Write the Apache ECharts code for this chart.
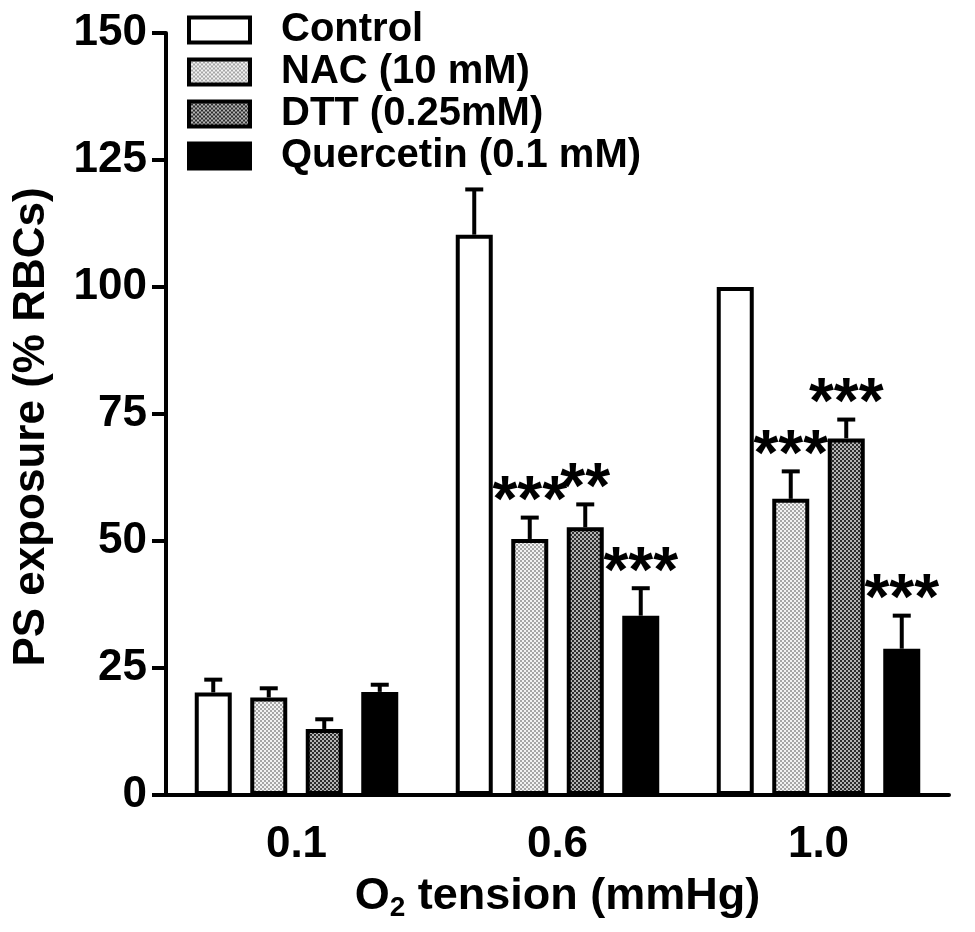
<!DOCTYPE html>
<html>
<head>
<meta charset="utf-8">
<script src="https://cdn.jsdelivr.net/npm/echarts@6/dist/echarts.min.js"></script>
<style>
    html, body { margin: 0; padding: 0; background: #fff; }
    #chart { width: 975px; height: 932px; }
</style>
</head>
<body>
<div id="chart"></div>
<script>
// O2 tension groups and treatments
var categories = ['0.1', '0.6', '1.0'];
var seriesNames = ['Control', 'NAC (10 mM)', 'DTT (0.25mM)', 'Quercetin (0.1 mM)'];
var yTicks = [0, 25, 50, 75, 100, 125, 150];

// means and upper error (SEM) in % RBCs
var controlMean = [20.2, 110.3, 100];
var controlErr = [2.9, 9.3, 0];
var nacMean = [19.2, 50.4, 58.3];
var nacErr = [2.2, 4.6, 5.8];
var dttMean = [13.0, 52.7, 70.2];
var dttErr = [2.3, 4.9, 4.1];
var querMean = [20.3, 35.3, 28.8];
var querErr = [1.8, 5.8, 6.9];

// significance marks
var controlSig = ['', '', ''];
var nacSig = ['', '***', '***'];
var dttSig = ['', '**', '***'];
var querSig = ['', '***', '***'];

var FONT = '"Liberation Sans", Arial, Helvetica, sans-serif';
var BAR_W = 37;
var BAR_GAP = 0.5;

function stipple(light, dark) {
    var c = document.createElement('canvas');
    c.width = 4;
    c.height = 4;
    var ctx = c.getContext('2d');
    ctx.fillStyle = light;
    ctx.fillRect(0, 0, 4, 4);
    ctx.fillStyle = dark;
    ctx.fillRect(0, 0, 2, 2);
    ctx.fillRect(2, 2, 2, 2);
    return {image: c, repeat: 'repeat'};
}

var fills = [
    '#ffffff',
    stipple('#f2f2f2', '#a6a6a6'),
    stipple('#b4b4b4', '#2e2e2e'),
    '#000000'
];
var means = [controlMean, nacMean, dttMean, querMean];
var errs = [controlErr, nacErr, dttErr, querErr];
var sigs = [controlSig, nacSig, dttSig, querSig];

var chart = echarts.init(document.getElementById('chart'));

var series = [];
for (var k = 0; k < 4; k++) {
    series.push({
        name: seriesNames[k],
        type: 'bar',
        barWidth: BAR_W,
        barGap: (BAR_GAP * 100) + '%',
        itemStyle: {
            color: fills[k],
            borderColor: '#000',
            borderWidth: 4
        },
        data: means[k]
    });
}

// error bars + stars, one custom series per treatment
for (var k = 0; k < 4; k++) {
    (function (k) {
        var rows = [];
        for (var i = 0; i < categories.length; i++) {
            rows.push([i, means[k][i], means[k][i] + errs[k][i], sigs[k][i]]);
        }
        series.push({
            type: 'custom',
            name: 'err' + k,
            clip: false,
            z: 5,
            encode: {x: 0, y: [1, 2]},
            renderItem: function (params, api) {
                var base = api.coord([api.value(0), api.value(1)]);
                var top = api.coord([api.value(0), api.value(2)]);
                var step = BAR_W * (1 + BAR_GAP);
                var x = base[0] + (k - 1.5) * step;
                var children = [];
                if (api.value(2) > api.value(1)) {
                    children.push({
                        type: 'line',
                        shape: {x1: x, y1: base[1], x2: x, y2: top[1] + 2},
                        style: {stroke: '#000', lineWidth: 4}
                    });
                    children.push({
                        type: 'line',
                        shape: {x1: x - 9, y1: top[1] + 2, x2: x + 9, y2: top[1] + 2},
                        style: {stroke: '#000', lineWidth: 4}
                    });
                }
                var s = rows[params.dataIndex][3];
                if (s) {
                    children.push({
                        type: 'text',
                        style: {
                            text: s,
                            x: x,
                            y: top[1] - 12,
                            align: 'center',
                            verticalAlign: 'middle',
                            fontFamily: FONT,
                            fontWeight: 'bold',
                            fontSize: 64,
                            fill: '#000'
                        }
                    });
                }
                return {type: 'group', children: children};
            },
            data: rows
        });
    })(k);
}

chart.setOption({
    backgroundColor: '#fff',
    animation: false,
    grid: {
        left: 166,
        right: 26,
        top: 33,
        bottom: 137
    },
    legend: {
        data: seriesNames,
        orient: 'vertical',
        left: 182,
        top: 4,
        itemWidth: 61,
        itemHeight: 25,
        itemGap: 0,
        icon: 'rect',
        selectedMode: false,
        itemStyle: {borderColor: '#000', borderWidth: 4},
        textStyle: {
            fontFamily: FONT,
            fontWeight: 'bold',
            fontSize: 40,
            lineHeight: 42,
            color: '#000',
            padding: [0, 0, 0, 26]
        }
    },
    xAxis: {
        type: 'category',
        data: categories,
        name: '{a|O}{sub|2}{a| tension (mmHg)}',
        nameLocation: 'middle',
        nameGap: 72,
        nameTextStyle: {
            rich: {
                a: {fontFamily: FONT, fontWeight: 'bold', fontSize: 45, color: '#000', lineHeight: 50},
                sub: {fontFamily: FONT, fontWeight: 'bold', fontSize: 28, color: '#000', lineHeight: 50, padding: [22, 0, 0, 0]}
            }
        },
        axisLine: {lineStyle: {color: '#000', width: 4}},
        axisTick: {alignWithLabel: true, length: 16, lineStyle: {color: '#000', width: 4}},
        axisLabel: {
            margin: 28,
            fontFamily: FONT,
            fontWeight: 'bold',
            fontSize: 44,
            color: '#000'
        }
    },
    yAxis: {
        type: 'value',
        min: yTicks[0],
        max: yTicks[yTicks.length - 1],
        interval: 25,
        name: 'PS exposure (% RBCs)',
        nameLocation: 'middle',
        nameRotate: 90,
        nameGap: 112,
        nameTextStyle: {
            fontFamily: FONT,
            fontWeight: 'bold',
            fontSize: 44,
            color: '#000',
            padding: [0, 26, 0, 0]
        },
        splitLine: {show: false},
        axisLine: {show: true, lineStyle: {color: '#000', width: 4}},
        axisTick: {show: true, length: 14, lineStyle: {color: '#000', width: 4}},
        axisLabel: {
            margin: 19,
            fontFamily: FONT,
            fontWeight: 'bold',
            fontSize: 44,
            color: '#000'
        }
    },
    series: series
});
</script>
</body>
</html>
